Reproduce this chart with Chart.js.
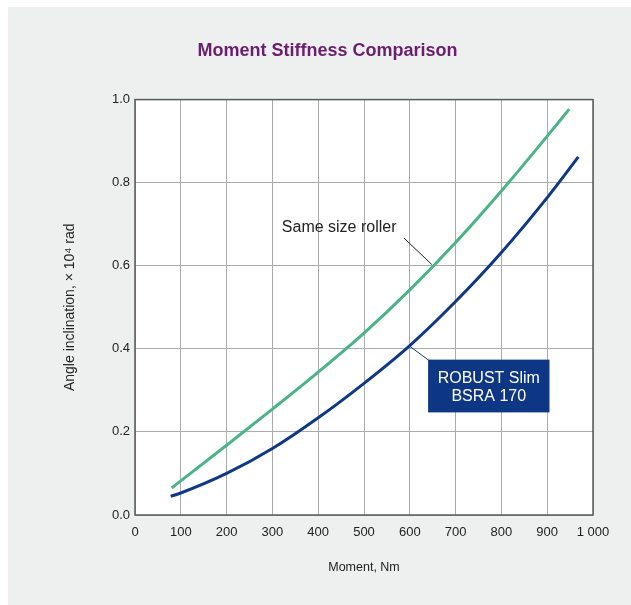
<!DOCTYPE html>
<html>
<head>
<meta charset="utf-8">
<script src="https://cdn.jsdelivr.net/npm/chart.js@4.4.1/dist/chart.umd.min.js"></script>
<style>
  html, body { margin: 0; padding: 0; background: #fff; }
  canvas { display: block; }
</style>
</head>
<body>
<canvas id="chart" width="631" height="605"></canvas>
<script>
// values (Moment in Nm, angle in 10^4 rad)
const sameSizeMoment = [80, 100, 200, 300, 400, 500, 600, 700, 800, 900, 948];
const sameSizeAngle = [0.065, 0.082, 0.168, 0.255, 0.344, 0.438, 0.542, 0.656, 0.78, 0.912, 0.977];
const robustMoment = [78, 100, 200, 300, 400, 500, 600, 700, 800, 900, 968];
const robustAngle = [0.045, 0.053, 0.1, 0.16, 0.234, 0.317, 0.408, 0.514, 0.632, 0.764, 0.862];

const xTicks = [0, 100, 200, 300, 400, 500, 600, 700, 800, 900, 1000];
const yTicks = [0, 0.2, 0.4, 0.6, 0.8, 1.0];

const FONT = "'Liberation Sans', Arial, sans-serif";
const GREEN = "#4bb486";
const BLUE = "#0f3887";

const toPoints = (xs, ys) => xs.map((x, i) => ({ x: x, y: ys[i] }));

// grey panel + white plot area + frame
const panelPlugin = {
    id: "panel",
    beforeDraw(chart) {
        const { ctx, chartArea } = chart;
        ctx.save();
        ctx.fillStyle = "#fff";
        ctx.fillRect(0, 0, chart.width, chart.height);
        ctx.fillStyle = "#eef0ef";
        ctx.fillRect(8, 7, chart.width - 8, chart.height - 7);
        ctx.fillStyle = "#fff";
        ctx.fillRect(chartArea.left, chartArea.top, chartArea.width, chartArea.height);
        ctx.restore();
    },
    afterDraw(chart) {
        const { ctx, chartArea } = chart;
        ctx.save();
        ctx.strokeStyle = "#5a5a5a";
        ctx.lineWidth = 1.5;
        ctx.strokeRect(chartArea.left, chartArea.top, chartArea.width, chartArea.height);
        ctx.restore();
    },
};

// callouts, anchored in data space
const calloutPlugin = {
    id: "callouts",
    afterDatasetsDraw(chart) {
        const { ctx } = chart;
        const xs = chart.scales.x, ys = chart.scales.y;
        const px = (v) => xs.getPixelForValue(v);
        const py = (v) => ys.getPixelForValue(v);
        ctx.save();

        // Same size roller
        ctx.strokeStyle = "#222";
        ctx.lineWidth = 1;
        ctx.beginPath();
        ctx.moveTo(px(587), py(0.667));
        ctx.lineTo(px(648), py(0.603));
        ctx.stroke();
        ctx.fillStyle = "#222";
        ctx.font = "16px " + FONT;
        ctx.textAlign = "right";
        ctx.textBaseline = "middle";
        ctx.fillText("Same size roller", px(571), py(0.691));

        // ROBUST Slim box
        ctx.strokeStyle = BLUE;
        ctx.beginPath();
        ctx.moveTo(px(600), py(0.406));
        ctx.lineTo(px(642), py(0.372));
        ctx.stroke();
        const bx = px(640), by = py(0.374);
        const bw = px(905) - bx, bh = py(0.247) - by;
        ctx.fillStyle = "#0d3685";
        ctx.fillRect(bx, by, bw, bh);
        ctx.fillStyle = "#fff";
        ctx.textAlign = "center";
        ctx.font = "16px " + FONT;
        ctx.fillText("ROBUST Slim", bx + bw / 2, by + 18.5);
        ctx.fillText("BSRA 170", bx + bw / 2, by + 37);
        ctx.restore();
    },
};

const ctx = document.getElementById("chart").getContext("2d");
const myChart = new Chart(ctx, {
    type: "line",
    data: {
        datasets: [
            {
                label: "Same size roller",
                data: toPoints(sameSizeMoment, sameSizeAngle),
                borderColor: GREEN,
                borderWidth: 3,
                pointRadius: 0,
                cubicInterpolationMode: "monotone",
            },
            {
                label: "ROBUST Slim BSRA 170",
                data: toPoints(robustMoment, robustAngle),
                borderColor: BLUE,
                borderWidth: 3,
                pointRadius: 0,
                cubicInterpolationMode: "monotone",
            },
        ],
    },
    options: {
        responsive: false,
        animation: false,
        devicePixelRatio: 1,
        layout: { padding: { left: 24, right: 0, top: 0, bottom: 0 } },
        plugins: {
            legend: { display: false },
            tooltip: { enabled: false },
            title: {
                display: true,
                text: "Moment Stiffness Comparison",
                color: "#6b1e6f",
                font: { family: FONT, size: 18, weight: "bold" },
                padding: { top: 40, bottom: 38 },
            },
        },
        scales: {
            x: {
                type: "linear",
                min: 0,
                max: 1000,
                afterBuildTicks: (scale) => { scale.ticks = xTicks.map((v) => ({ value: v })); },
                afterFit: (scale) => { scale.height = 90; },
                ticks: {
                    color: "#222",
                    font: { family: FONT, size: 13 },
                    padding: 10,
                    maxRotation: 0,
                    autoSkip: false,
                    callback: (v) => (v === 1000 ? "1 000" : String(v)),
                },
                grid: { color: "#ababab", lineWidth: 1, drawTicks: false },
                border: { display: false },
                title: {
                    display: true,
                    text: "Moment, Nm",
                    color: "#222",
                    font: { family: FONT, size: 12.5 },
                    padding: { top: 0, bottom: 30 },
                },
            },
            y: {
                min: 0,
                max: 1,
                afterBuildTicks: (scale) => { scale.ticks = yTicks.map((v) => ({ value: v })); },
                afterFit: (scale) => { scale.width = 111; },
                ticks: {
                    color: "#222",
                    font: { family: FONT, size: 13 },
                    padding: 5,
                    callback: (v) => v.toFixed(1),
                },
                grid: { color: "#ababab", lineWidth: 1, drawTicks: false },
                border: { display: false },
                title: {
                    display: true,
                    text: "Angle inclination, × 10⁴ rad",
                    color: "#222",
                    font: { family: FONT, size: 14 },
                    padding: { top: 38, bottom: 0 },
                },
            },
            yRight: {
                position: "right",
                display: true,
                afterFit: (scale) => { scale.width = 38; },
                ticks: { display: false },
                grid: { display: false, drawTicks: false },
                border: { display: false },
            },
        },
    },
    plugins: [panelPlugin, calloutPlugin],
});
</script>
</body>
</html>
